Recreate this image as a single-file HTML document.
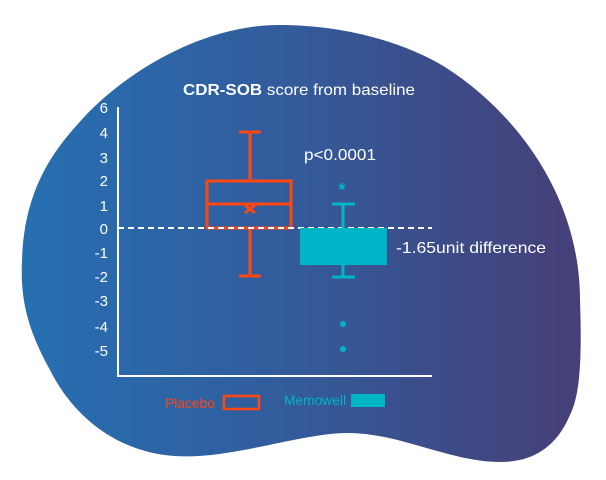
<!DOCTYPE html>
<html><head><meta charset="utf-8"><style>
html,body{margin:0;padding:0;background:#fff;width:606px;height:480px;overflow:hidden}
svg{display:block}
text{font-family:"Liberation Sans",sans-serif}
</style></head><body>
<svg width="606" height="480" viewBox="0 0 606 480">
<defs><linearGradient id="g" x1="0" x2="1" y1="0" y2="0">
<stop offset="0" stop-color="#2670b2"/><stop offset="0.5" stop-color="#335a9a"/><stop offset="1" stop-color="#463f77"/></linearGradient></defs>
<path d="M279,25 C340,25 400,40 445,67 C520,115 580,200 580,300 C582,360 580,395 570,415 C555,450 530,462 500,462 C450,462 400,433 348,433 C300,433 230,460 174,456 C120,452 75,420 50,370 C28,330 20,300 22,260 C24,200 45,160 77,125 C120,75 200,25 279,25 Z" fill="url(#g)"/>
<text x="183" y="95" fill="#fff" font-size="16" textLength="232" lengthAdjust="spacingAndGlyphs"><tspan font-weight="bold">CDR-SOB</tspan> score from baseline</text>
<g fill="#fff" font-size="15" text-anchor="end">
<text x="108" y="113">6</text><text x="108" y="138">4</text><text x="108" y="163">3</text><text x="108" y="186">2</text><text x="108" y="211">1</text><text x="108" y="234">0</text><text x="108" y="258">-1</text><text x="108" y="282">-2</text><text x="108" y="306">-3</text><text x="108" y="332">-4</text><text x="108" y="356">-5</text>
</g>
<path d="M118,107 V376 H432" stroke="#fff" stroke-width="2" fill="none"/>
<g stroke="#ff4713" stroke-width="3" fill="none">
<rect x="207" y="181" width="84" height="47"/>
<line x1="207" y1="204" x2="291" y2="204"/>
<line x1="250" y1="132" x2="250" y2="181"/><line x1="239" y1="132" x2="261" y2="132"/>
<line x1="250" y1="228" x2="250" y2="276"/><line x1="239" y1="276" x2="261" y2="276"/>
<path d="M245,205 L255,213 M255,205 L245,213"/>
</g>
<line x1="118" y1="228" x2="432" y2="228" stroke="#fff" stroke-width="2" stroke-dasharray="6,4"/>
<g fill="#00b5c8" stroke="#00b5c8">
<rect x="300" y="228" width="87" height="37" stroke="none"/>
<line x1="343" y1="204" x2="343" y2="228" stroke-width="3"/><line x1="332" y1="204" x2="355" y2="204" stroke-width="3"/>
<line x1="343" y1="265" x2="343" y2="276" stroke-width="3"/><line x1="332" y1="277" x2="355" y2="277" stroke-width="3"/>
<circle cx="343" cy="324" r="3" stroke="none"/><circle cx="343" cy="349" r="3" stroke="none"/>
</g>
<text x="342" y="196" fill="#00b5c8" font-size="18" font-weight="bold" text-anchor="middle">*</text>
<text x="304" y="160" fill="#fff" font-size="16" textLength="72" lengthAdjust="spacingAndGlyphs">p&lt;0.0001</text>
<text x="396" y="253" fill="#fff" font-size="16" textLength="150" lengthAdjust="spacingAndGlyphs">-1.65unit difference</text>
<text x="165" y="408" fill="#ff4713" font-size="14" textLength="50" lengthAdjust="spacingAndGlyphs">Placebo</text>
<rect x="224" y="396" width="35" height="13" fill="none" stroke="#ff4713" stroke-width="2.5"/>
<text x="284" y="405" fill="#00b5c8" font-size="14" textLength="62" lengthAdjust="spacingAndGlyphs">Memowell</text>
<rect x="351" y="394" width="34" height="13" fill="#00b5c8"/>
</svg>
</body></html>
